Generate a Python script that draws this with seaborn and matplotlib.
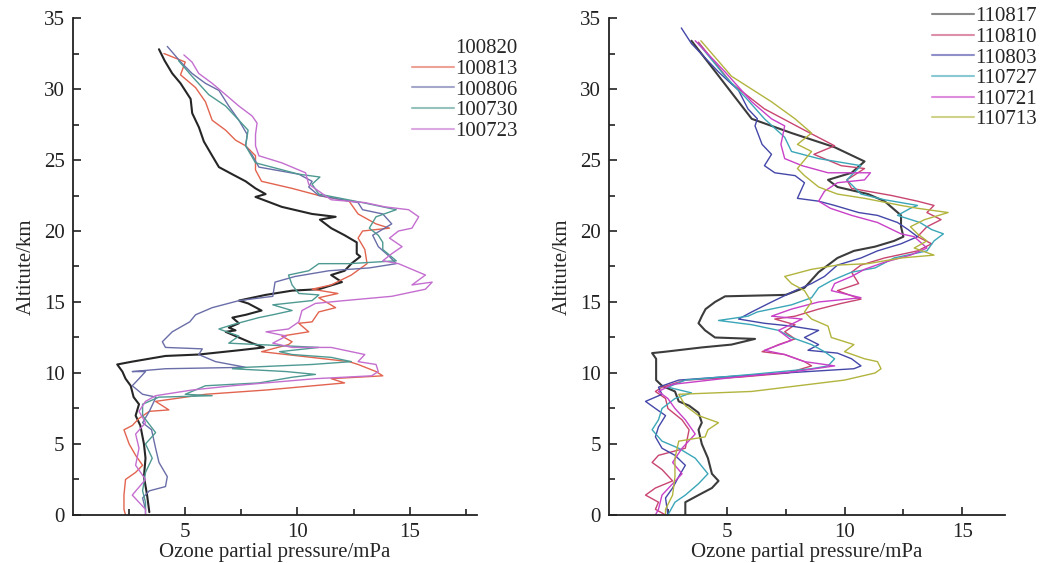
import numpy as np
import pandas as pd
import matplotlib
matplotlib.use('Agg')
import matplotlib.pyplot as plt
import seaborn as sns

# ---- 2010 soundings (left panel): ozone partial pressure (mPa) and altitude (km)
o3_100820 = [3.83, 4.08, 4.42, 4.79, 5.24, 5.31, 5.61, 5.83, 6.2, 6.5, 7.09, 7.69, 8.13, 8.58, 8.13, 9.3, 10.65, 11.7, 11.0, 11.5, 12.1, 12.64, 12.64, 12.8, 12.4, 12.1, 11.5, 11.98, 10.95, 9.76, 8.58, 7.39, 7.8, 8.4, 7.7, 7.1, 7.39, 6.94, 7.24, 6.8, 7.39, 7.98, 8.5, 7.39, 5.6, 4.12, 2.64, 1.97, 2.2, 2.34, 2.57, 2.7, 2.94, 2.79, 3.0, 3.16, 3.23, 3.16, 3.3, 3.4]
alt_100820 = [32.8, 32.0, 31.1, 30.4, 29.3, 28.3, 27.3, 26.3, 25.3, 24.5, 24.0, 23.5, 23.0, 22.6, 22.4, 21.7, 21.2, 21.0, 20.8, 20.2, 19.7, 19.2, 18.4, 18.2, 17.7, 17.2, 16.9, 16.4, 15.9, 15.8, 15.5, 15.1, 14.9, 14.4, 14.1, 13.9, 13.5, 13.2, 13.0, 12.9, 12.5, 12.1, 11.8, 11.6, 11.3, 11.2, 10.8, 10.6, 10.1, 9.6, 9.1, 8.3, 7.8, 7.0, 6.3, 5.0, 4.0, 2.7, 1.4, 0.2]

o3_100813 = [4.05, 5.0, 4.79, 5.46, 5.9, 6.2, 6.8, 7.24, 7.69, 8.13, 8.13, 8.4, 9.76, 10.95, 12.3, 12.7, 13.5, 14.1, 12.9, 12.7, 13.0, 13.1, 12.4, 11.5, 10.65, 11.8, 10.95, 11.7, 10.95, 10.65, 10.06, 10.5, 9.3, 9.76, 9.6, 8.4, 10.06, 12.3, 12.7, 13.5, 13.8, 11.5, 12.1, 8.6, 5.9, 3.68, 4.27, 3.4, 2.94, 2.64, 2.27, 2.5, 2.79, 3.1, 2.79, 2.34, 2.27, 2.27, 2.34]
alt_100813 = [32.5, 31.9, 31.0, 30.1, 29.1, 27.8, 27.1, 26.4, 26.0, 25.3, 24.3, 23.5, 23.0, 22.5, 22.1, 21.2, 20.5, 20.2, 20.0, 19.5, 18.7, 17.7, 16.9, 16.2, 15.9, 15.6, 15.3, 14.6, 14.3, 13.6, 13.5, 12.9, 12.6, 12.2, 12.0, 11.5, 11.2, 10.8, 10.6, 10.1, 9.8, 9.6, 9.3, 8.8, 8.5, 8.0, 7.4, 7.3, 6.8, 6.3, 6.0, 5.0, 4.2, 3.5, 3.0, 2.5, 1.4, 0.4, 0.0]

o3_100806 = [4.2, 4.8, 5.3, 5.9, 6.5, 6.94, 7.39, 7.76, 7.69, 8.0, 8.28, 10.06, 10.65, 10.5, 10.95, 12.7, 12.9, 13.8, 14.2, 13.35, 13.6, 14.1, 14.4, 13.2, 11.4, 9.9, 9.0, 8.9, 7.4, 6.2, 5.46, 5.2, 4.42, 3.98, 4.12, 5.76, 5.6, 6.35, 7.69, 4.12, 2.64, 3.23, 2.94, 2.64, 3.1, 3.7, 3.4, 3.1, 3.5, 3.68, 3.83, 4.2, 4.12, 3.4, 3.1, 3.23]
alt_100806 = [33.0, 31.9, 31.1, 30.4, 29.9, 28.8, 27.8, 26.8, 26.0, 25.3, 24.5, 24.0, 23.5, 23.1, 22.5, 22.0, 21.5, 21.2, 20.5, 19.7, 18.9, 18.2, 17.7, 17.4, 17.2, 16.8, 16.4, 15.4, 15.1, 14.6, 14.1, 13.6, 12.9, 12.2, 11.8, 11.7, 11.3, 10.8, 10.4, 10.3, 10.1, 10.1, 9.6, 9.1, 8.5, 8.3, 7.3, 6.5, 6.0, 4.7, 3.7, 2.7, 2.0, 1.7, 1.2, 0.4]

o3_100730 = [4.7, 5.3, 6.05, 6.8, 7.39, 7.8, 7.69, 8.13, 10.06, 11.0, 10.65, 10.95, 12.9, 14.4, 13.5, 13.2, 13.6, 13.8, 13.8, 14.4, 12.3, 10.95, 10.5, 9.6, 9.76, 10.06, 10.95, 10.65, 8.9, 9.76, 8.9, 8.28, 7.1, 6.5, 7.39, 6.94, 10.95, 9.2, 9.76, 11.5, 12.4, 10.65, 7.7, 7.1, 9.5, 10.8, 9.76, 8.28, 5.9, 5.0, 6.2, 3.83, 3.1, 3.1, 3.68, 3.23, 3.53, 3.23, 3.1, 3.23, 3.23]
alt_100730 = [32.0, 30.9, 29.6, 28.8, 27.8, 27.1, 26.0, 24.8, 24.0, 23.8, 23.3, 22.6, 22.0, 21.5, 21.0, 20.2, 19.7, 19.2, 18.7, 17.9, 17.7, 17.7, 17.2, 16.9, 16.2, 15.6, 15.5, 15.1, 14.8, 14.4, 14.1, 13.9, 13.4, 13.1, 12.6, 12.1, 11.8, 11.5, 11.3, 11.1, 10.8, 10.6, 10.4, 10.3, 10.1, 9.9, 9.7, 9.3, 9.1, 8.5, 8.4, 8.3, 7.8, 7.0, 5.8, 5.0, 4.0, 3.0, 1.7, 0.9, 0.0]

o3_100723 = [4.94, 5.3, 5.6, 6.2, 6.8, 7.39, 7.98, 8.2, 8.13, 8.13, 8.28, 9.3, 10.36, 10.5, 11.5, 13.0, 13.9, 14.95, 15.4, 15.1, 14.5, 14.1, 14.66, 14.2, 13.8, 14.5, 15.7, 15.1, 16.0, 15.7, 14.2, 12.1, 10.8, 10.2, 10.06, 9.6, 8.6, 9.5, 8.9, 9.76, 11.5, 13.0, 12.7, 13.5, 13.6, 13.3, 10.8, 7.1, 5.3, 3.68, 3.23, 2.94, 3.23, 2.79, 2.94, 2.79, 3.23, 2.64, 3.23, 3.23]
alt_100723 = [32.4, 31.9, 31.1, 30.4, 29.6, 28.8, 28.1, 27.6, 26.8, 26.0, 25.3, 24.8, 24.1, 23.3, 22.2, 22.0, 21.7, 21.5, 21.0, 20.2, 20.0, 19.5, 18.9, 18.4, 17.9, 17.7, 16.9, 16.2, 16.4, 15.9, 15.4, 15.1, 14.9, 14.4, 13.6, 13.1, 12.9, 12.6, 12.1, 11.8, 11.8, 11.3, 10.8, 10.6, 10.1, 9.8, 9.6, 9.1, 8.8, 8.4, 8.0, 7.3, 6.5, 5.7, 4.7, 3.5, 2.5, 1.4, 0.4, 0.0]

# ---- 2011 soundings (right panel)
o3_110817 = [3.5, 6.06, 7.75, 9.58, 10.85, 10.3, 9.3, 9.7, 11.0, 11.7, 12.4, 12.4, 12.5, 12.1, 11.3, 10.4, 9.7, 8.9, 8.3, 7.5, 4.93, 4.5, 4.1, 3.94, 3.8, 4.08, 4.5, 6.2, 5.2, 3.94, 2.4, 1.83, 2.0, 2.0, 2.25, 2.8, 2.96, 3.4, 3.8, 3.94, 3.8, 3.94, 4.2, 4.37, 4.65, 4.37, 3.8, 3.24, 3.24]
alt_110817 = [33.4, 27.9, 26.9, 25.9, 24.9, 24.1, 23.6, 23.1, 22.6, 22.1, 21.1, 20.3, 19.6, 19.3, 18.9, 18.6, 18.1, 17.1, 16.0, 15.5, 15.4, 15.0, 14.5, 14.0, 13.5, 13.0, 12.5, 12.4, 12.0, 11.8, 11.5, 11.4, 11.0, 9.5, 9.1, 8.7, 8.0, 7.7, 7.2, 6.5, 6.0, 5.0, 4.0, 2.9, 2.4, 1.9, 1.4, 0.9, 0.0]

o3_110810 = [3.8, 5.2, 6.6, 8.3, 9.58, 8.7, 9.86, 10.85, 10.1, 10.3, 12.0, 13.1, 13.8, 13.5, 14.1, 13.5, 13.1, 13.7, 13.1, 11.7, 10.7, 10.3, 10.6, 9.7, 10.7, 9.86, 8.9, 7.9, 7.04, 7.9, 7.46, 7.9, 7.2, 6.5, 7.46, 8.3, 8.6, 7.6, 5.5, 3.24, 2.25, 1.97, 2.4, 2.5, 3.1, 3.4, 3.24, 2.1, 1.83, 2.25, 2.7, 1.97, 1.55, 2.1, 1.97, 2.4]
alt_110810 = [33.3, 30.4, 28.6, 27.1, 26.0, 25.4, 24.6, 24.4, 23.6, 23.0, 22.5, 22.1, 21.8, 21.3, 20.8, 20.3, 19.6, 19.1, 18.6, 18.1, 17.6, 17.1, 16.3, 15.8, 15.2, 14.9, 14.5, 14.0, 13.8, 13.4, 12.9, 12.4, 12.0, 11.5, 11.3, 10.8, 10.5, 10.0, 9.7, 9.5, 9.0, 8.7, 8.2, 7.5, 6.7, 6.0, 4.7, 4.2, 3.7, 3.2, 2.4, 1.9, 1.4, 0.9, 0.4, 0.0]

o3_110803 = [3.07, 3.5, 4.65, 5.5, 5.9, 6.3, 6.2, 6.5, 6.9, 6.6, 7.04, 7.9, 8.3, 8.0, 8.9, 9.58, 10.6, 11.4, 12.25, 12.7, 13.1, 12.4, 11.4, 10.7, 9.7, 9.15, 8.6, 7.9, 6.9, 6.06, 5.5, 6.6, 7.75, 8.9, 8.3, 8.9, 8.45, 9.7, 10.3, 10.7, 10.4, 7.46, 4.65, 2.96, 2.1, 2.25, 1.55, 1.97, 2.4, 2.1, 1.97, 2.25, 2.8, 3.24, 2.96, 2.7, 2.4, 2.5]
alt_110803 = [34.3, 33.2, 31.2, 29.9, 28.6, 27.9, 27.4, 26.1, 25.4, 24.6, 24.1, 23.9, 23.4, 22.3, 22.1, 21.8, 21.3, 21.1, 20.6, 20.1, 19.6, 19.1, 18.6, 18.1, 17.6, 16.8, 16.3, 15.8, 15.0, 14.3, 13.8, 13.5, 13.3, 13.0, 12.5, 12.0, 11.6, 11.4, 11.0, 10.5, 10.3, 10.0, 9.7, 9.5, 9.0, 8.5, 8.0, 7.5, 7.0, 6.2, 5.5, 4.7, 4.2, 3.5, 2.7, 1.9, 1.2, 0.0]

o3_110727 = [3.8, 4.93, 5.8, 6.6, 7.46, 7.75, 8.9, 10.7, 10.1, 10.7, 11.7, 13.1, 12.8, 12.25, 13.2, 13.7, 14.2, 13.8, 13.5, 12.1, 11.3, 10.3, 9.44, 8.9, 8.6, 7.75, 6.3, 5.9, 4.65, 6.06, 7.2, 7.75, 8.6, 9.15, 9.58, 9.3, 8.6, 6.06, 3.24, 2.5, 3.5, 2.8, 2.25, 2.1, 1.83, 2.25, 2.96, 3.66, 4.2, 3.8, 3.24, 2.8, 2.5]
alt_110727 = [33.2, 30.9, 29.4, 27.9, 26.6, 25.6, 25.1, 24.6, 23.6, 22.6, 22.2, 21.8, 21.6, 21.1, 20.6, 20.1, 19.8, 19.3, 18.6, 18.1, 17.4, 17.1, 16.5, 16.0, 15.3, 14.8, 14.3, 14.0, 13.7, 13.4, 13.0, 12.5, 12.0, 11.5, 11.0, 10.5, 10.3, 9.9, 9.5, 9.0, 8.6, 8.2, 7.5, 6.7, 6.0, 5.2, 4.7, 4.0, 2.9, 2.2, 1.4, 0.9, 0.0]

o3_110721 = [3.66, 4.93, 6.06, 6.9, 7.46, 7.3, 7.46, 8.2, 9.3, 11.1, 10.85, 9.7, 9.15, 8.9, 9.4, 10.3, 11.4, 12.4, 12.96, 13.5, 12.8, 11.7, 10.85, 10.3, 9.58, 9.44, 10.7, 8.9, 7.75, 6.9, 8.2, 7.2, 7.75, 6.6, 7.46, 8.3, 9.58, 7.9, 5.35, 2.7, 2.1, 2.5, 2.8, 3.24, 3.66, 3.1, 2.7, 3.1, 2.7, 2.25, 2.1, 1.97]
alt_110721 = [33.4, 31.2, 29.1, 27.9, 27.4, 26.1, 25.1, 24.6, 24.1, 24.1, 23.6, 23.4, 22.8, 22.1, 21.6, 21.1, 20.6, 19.8, 19.6, 18.8, 18.3, 17.8, 17.3, 16.8, 16.3, 15.8, 15.3, 15.0, 14.5, 14.0, 13.8, 13.0, 12.3, 11.6, 11.3, 10.8, 10.5, 10.1, 9.7, 9.2, 8.7, 8.2, 7.5, 6.7, 5.7, 4.7, 3.7, 2.9, 2.2, 1.4, 0.4, 0.0]

o3_110713 = [3.9, 5.2, 6.9, 7.9, 8.6, 8.0, 8.6, 8.0, 8.3, 8.9, 9.7, 10.85, 12.4, 13.1, 14.4, 13.4, 12.8, 13.1, 13.5, 12.96, 13.8, 12.4, 11.0, 9.7, 8.6, 7.46, 7.75, 8.3, 8.6, 8.3, 8.6, 9.3, 9.44, 10.4, 10.0, 10.85, 11.4, 11.55, 11.3, 10.0, 6.06, 2.96, 3.24, 3.8, 4.65, 4.2, 4.08, 2.96, 2.8, 2.8, 2.7, 2.4, 2.4]
alt_110713 = [33.4, 30.9, 29.1, 27.9, 26.9, 26.1, 25.6, 24.4, 23.9, 23.1, 22.6, 22.3, 21.8, 21.6, 21.3, 20.8, 20.3, 19.8, 19.3, 18.8, 18.3, 18.1, 17.7, 17.6, 17.3, 16.8, 16.3, 15.8, 15.0, 14.3, 13.8, 13.3, 12.5, 12.0, 11.5, 11.0, 10.8, 10.3, 10.0, 9.5, 8.7, 8.5, 7.7, 7.0, 6.5, 6.0, 5.5, 5.2, 4.0, 2.7, 1.4, 0.4, 0.0]

dates_2010 = ['100820', '100813', '100806', '100730', '100723']
dates_2011 = ['110817', '110810', '110803', '110727', '110721', '110713']
colors_2010 = ['#262626', '#e2644f', '#6a6ea8', '#4e9a92', '#c46ed0']
colors_2011 = ['#3c3c3c', '#c8456f', '#4447a8', '#3aa6b8', '#c840c8', '#b2b43e']

profiles = {
    '100820': (o3_100820, alt_100820), '100813': (o3_100813, alt_100813),
    '100806': (o3_100806, alt_100806), '100730': (o3_100730, alt_100730),
    '100723': (o3_100723, alt_100723),
    '110817': (o3_110817, alt_110817), '110810': (o3_110810, alt_110810),
    '110803': (o3_110803, alt_110803), '110727': (o3_110727, alt_110727),
    '110721': (o3_110721, alt_110721), '110713': (o3_110713, alt_110713),
}


def make_df(dates):
    rows = []
    for d in dates:
        o3, alt = profiles[d]
        rows.append(pd.DataFrame({'ozone': o3, 'alt': alt, 'date': d}))
    return pd.concat(rows, ignore_index=True)


sns.set_style('ticks')
plt.rcParams['font.family'] = ['Liberation Serif', 'DejaVu Serif']

fig = plt.figure(figsize=(10.4, 5.63), dpi=100)
ax1 = fig.add_axes([0.0702, 0.0853, 0.3885, 0.8827])
ax2 = fig.add_axes([0.5856, 0.0853, 0.3804, 0.8827])

panels = [
    (ax1, dates_2010, colors_2010, 18.0, (0.396, 0.931)),
    (ax2, dates_2011, colors_2011, 16.8, (0.896, 0.988)),
]

for ax, dates, colors, xmax, anchor in panels:
    df = make_df(dates)
    sns.lineplot(data=df, x='ozone', y='alt', hue='date', hue_order=dates,
                 palette=colors, sort=False, estimator=None, linewidth=1.0,
                 ax=ax, legend=False)
    ax.lines[0].set_linewidth(1.5)
    ax.set_xlim(0, xmax)
    ax.set_ylim(0, 35)
    ax.set_xticks([5, 10, 15])
    ax.set_xticks([2.5, 7.5, 12.5, 17.5] if xmax > 17.5 else [2.5, 7.5, 12.5], minor=True)
    ax.set_yticks(np.arange(0, 36, 5))
    ax.set_yticks(np.arange(2.5, 35, 5), minor=True)
    ax.tick_params(which='both', direction='in', labelsize=15, width=1.2, colors='#222222')
    ax.tick_params(which='major', length=6, pad=6)
    ax.tick_params(which='minor', length=4)
    for s in ['top', 'right']:
        ax.spines[s].set_visible(False)
    for s in ['left', 'bottom']:
        ax.spines[s].set_linewidth(1.3)
        ax.spines[s].set_color('#222222')
    ax.set_xlabel('Ozone partial pressure/mPa', fontsize=15, labelpad=0.5)
    ax.set_ylabel('Altitute/km', fontsize=15, labelpad=6)
    leg = ax.legend(ax.lines[:len(dates)], dates, loc='upper left',
                    bbox_to_anchor=anchor, bbox_transform=fig.transFigure,
                    frameon=False, fontsize=15, handlelength=2.0,
                    handletextpad=0.1, labelspacing=0.05, borderpad=0,
                    borderaxespad=0)
    for h in leg.get_lines():
        h.set_linewidth(1.5)
        h.set_alpha(0.6)

# the first entry of the 2010 legend shows no line sample
ax1.get_legend().get_lines()[0].set_visible(False)

fig.savefig('out.png', dpi=100)
